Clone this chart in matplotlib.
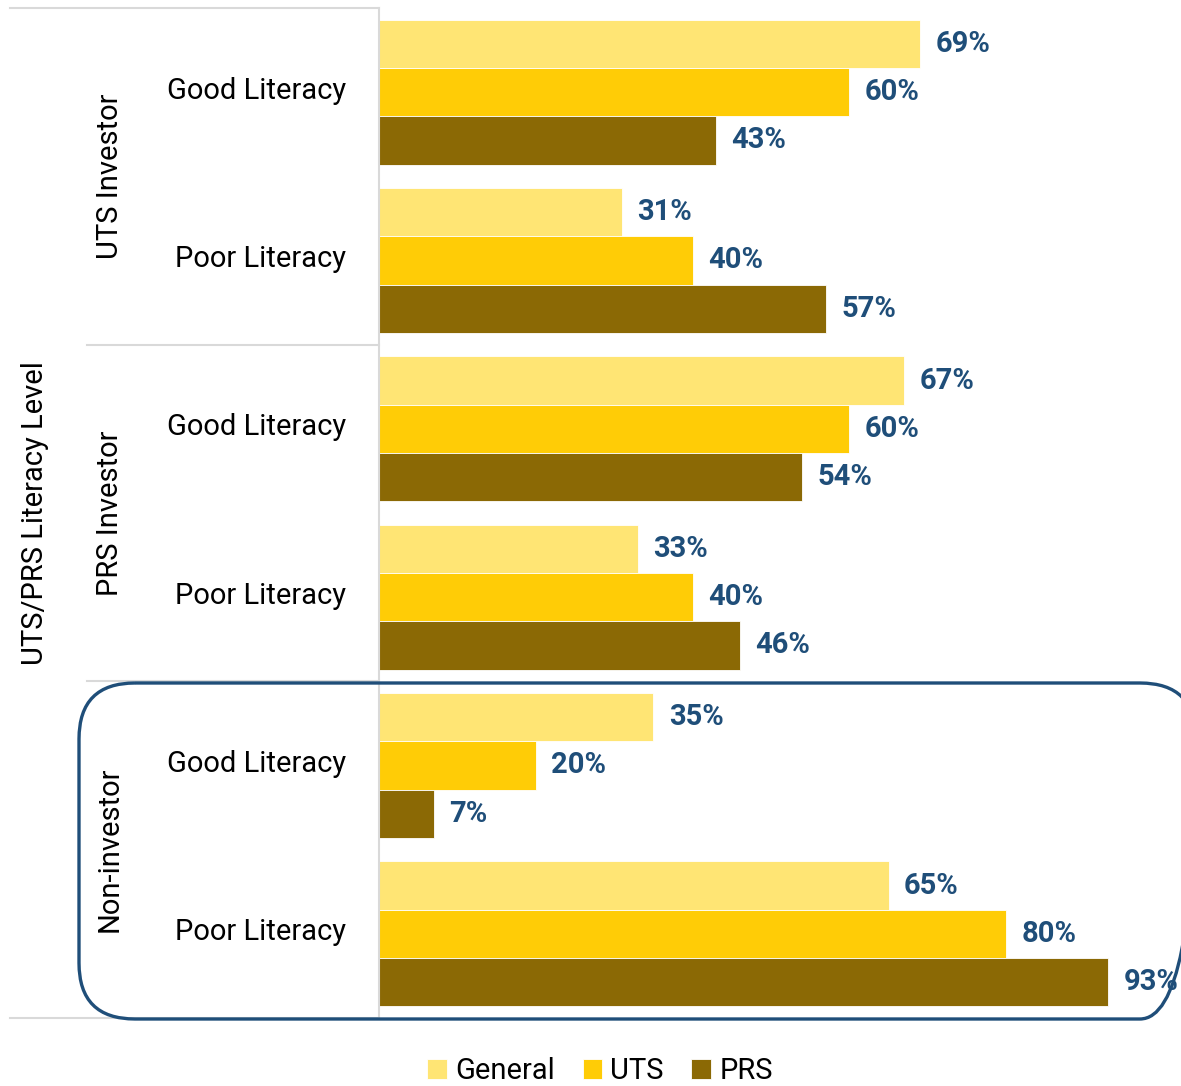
import matplotlib
matplotlib.use("Agg")
import matplotlib.pyplot as plt
import numpy as np
from matplotlib.patches import FancyBboxPatch
from matplotlib.transforms import blended_transform_factory, ScaledTranslation

plt.rcParams['font.family'] = ['Roboto', 'DejaVu Sans']

categories = ["Good Literacy", "Poor Literacy",
              "Good Literacy", "Poor Literacy",
              "Good Literacy", "Poor Literacy"]
groups = ["UTS Investor", "PRS Investor", "Non-investor"]
series_names = ["General", "UTS", "PRS"]
general = [69, 31, 67, 33, 35, 65]
uts = [60, 40, 60, 40, 20, 80]
prs = [43, 57, 54, 46, 7, 93]

COLORS = {"General": "#FFE574", "UTS": "#FFCC06", "PRS": "#8B6905"}
LABEL_BLUE = "#1F4E79"
GRID_GRAY = "#D9D9D9"

W, H = 1181, 1086
fig = plt.figure(figsize=(W / 100, H / 100), dpi=100)

ax = fig.add_axes([379 / W, 68 / H, 1 - 379 / W, 1010 / H])

y = np.arange(len(categories)) + 0.5
bar_h = 0.287
offsets = [-bar_h, 0, bar_h]

for name, values, off in zip(series_names, [general, uts, prs], offsets):
    bars = ax.barh(y + off, values, height=bar_h, color=COLORS[name],
                   edgecolor="white", linewidth=0.6, label=name)
    ax.bar_label(bars, labels=[f"{v}%" for v in values], padding=11,
                 color=LABEL_BLUE, fontsize=21, fontweight="bold",
                 clip_on=False)

ax.set_xlim(0, (W - 379) / 7.84)
ax.set_ylim(len(categories), 0)
ax.set_xticks([])
ax.set_yticks(y)
ax.set_yticklabels(categories, fontsize=21)
ax.tick_params(axis="y", length=0, pad=23.5)

# nudge category labels up a little
lift = ScaledTranslation(0, 4.5 / 100, fig.dpi_scale_trans)
for lbl in ax.get_yticklabels():
    lbl.set_transform(lbl.get_transform() + lift)

for side in ["top", "right", "bottom"]:
    ax.spines[side].set_visible(False)
ax.spines["left"].set_color(GRID_GRAY)
ax.spines["left"].set_linewidth(1.5)

# separator lines in the left margin (x in figure coords, y in data)
trans = blended_transform_factory(fig.transFigure, ax.transData)
for yy, x0 in [(0, 10), (2, 87), (4, 87), (6, 10)]:
    ax.plot([x0 / W, 379 / W], [yy, yy], color=GRID_GRAY, lw=1.5,
            transform=trans, clip_on=False)

# group labels
for i, g in enumerate(groups):
    ax.text(110 / W, 2 * i + 1, g, transform=trans, rotation=90,
            ha="center", va="center", fontsize=21)
ax.text(35 / W, 3, "UTS/PRS Literacy Level", transform=trans, rotation=90,
        ha="center", va="center", fontsize=21)

# rounded highlight around the non-investor group
over = fig.add_axes([0, 0, 1, 1], facecolor="none")
over.set_xlim(0, W)
over.set_ylim(H, 0)
over.axis("off")
box = FancyBboxPatch((79, 683), 1117, 336,
                     boxstyle="round,pad=0,rounding_size=56",
                     fill=False, edgecolor=LABEL_BLUE, linewidth=2.4)
over.add_patch(box)

leg = fig.legend(loc="center", bbox_to_anchor=(600 / W, 15 / H),
                 ncol=3, frameon=False, fontsize=21,
                 handlelength=0.68, handleheight=0.68, handletextpad=0.27,
                 columnspacing=0.95, borderpad=0)

fig.savefig("out.png", dpi=100)
